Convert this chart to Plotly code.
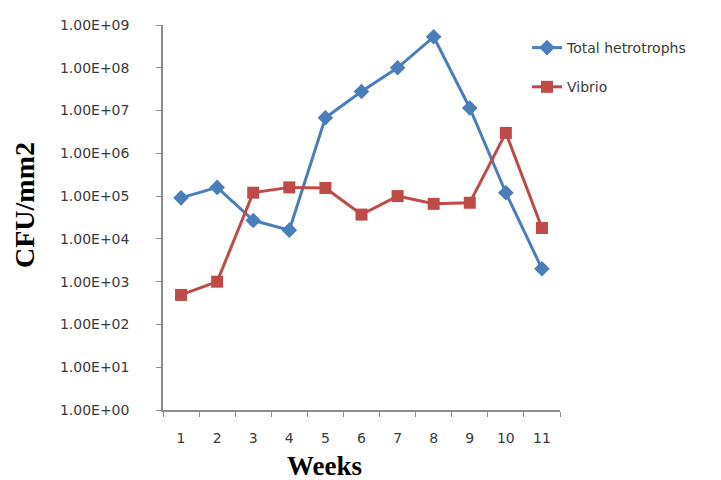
import plotly.graph_objects as go

weeks = ["1", "2", "3", "4", "5", "6", "7", "8", "9", "10", "11"]
total_hetrotrophs = [9.1e4, 1.6e5, 2.7e4, 1.6e4, 6.8e6, 2.8e7, 1.0e8, 5.3e8, 1.15e7, 1.2e5, 2.0e3]
vibrio = [4.9e2, 1.0e3, 1.2e5, 1.6e5, 1.55e5, 3.7e4, 1.0e5, 6.6e4, 7.0e4, 3.0e6, 1.8e4]
y_tickvals = [1e0, 1e1, 1e2, 1e3, 1e4, 1e5, 1e6, 1e7, 1e8, 1e9]
y_ticktext = ["1.00E+00", "1.00E+01", "1.00E+02", "1.00E+03", "1.00E+04",
              "1.00E+05", "1.00E+06", "1.00E+07", "1.00E+08", "1.00E+09"]

BLUE = "#4A7EBB"
RED = "#BE4B48"
AX = "#8C8C8C"
TXT = "#3A3A3A"
tickfont = dict(family="DejaVu Sans", size=14, color=TXT)

L, R, T, B = 163, 161, 25, 70
W, H = 721, 480
pw, ph = W - L - R, H - T - B

def px_x(x):
    return (x - L) / pw

def px_y(y):
    return (H - B - y) / ph

fig = go.Figure()
fig.add_trace(go.Scatter(
    x=weeks, y=total_hetrotrophs, name="Total hetrotrophs", legendgroup="a",
    mode="lines+markers", line=dict(color=BLUE, width=3),
    marker=dict(symbol="diamond", size=12, color=BLUE)))
fig.add_trace(go.Scatter(
    x=weeks, y=vibrio, name="Vibrio", legendgroup="b",
    mode="lines+markers", line=dict(color=RED, width=3),
    marker=dict(symbol="square", size=12, color=RED)))

fig.update_layout(
    width=W, height=H,
    margin=dict(l=L, r=R, t=T, b=B),
    paper_bgcolor="white", plot_bgcolor="white",
    showlegend=True,
    legend=dict(x=px_x(527), xanchor="left", y=px_y(32), yanchor="top",
                font=dict(family="DejaVu Sans", size=14, color=TXT),
                traceorder="grouped", tracegroupgap=18,
                bgcolor="rgba(0,0,0,0)"),
    xaxis=dict(type="category", tickson="boundaries", ticks="outside", ticklen=5,
               tickcolor=AX, showline=True, linecolor=AX, linewidth=1.5,
               showgrid=False, zeroline=False, tickfont=tickfont,
               ticklabelstandoff=14, range=[-0.5, 10.5]),
    yaxis=dict(type="log", range=[0, 9], tickvals=y_tickvals, ticktext=y_ticktext,
               ticks="outside", ticklen=5, tickcolor=AX, showline=True,
               linecolor=AX, linewidth=1.5, showgrid=False, zeroline=False,
               tickfont=tickfont, ticklabelstandoff=24),
    annotations=[
        dict(text="<b>CFU/mm2</b>", x=px_x(24), y=px_y(205), xref="paper", yref="paper",
             xanchor="center", yanchor="middle", showarrow=False, textangle=-90,
             font=dict(family="Liberation Serif", size=28, color="black")),
        dict(text="<b>Weeks</b>", x=px_x(324), y=px_y(466), xref="paper", yref="paper",
             xanchor="center", yanchor="middle", showarrow=False,
             font=dict(family="Liberation Serif", size=27, color="black")),
    ],
)
fig.write_html("out.html")
